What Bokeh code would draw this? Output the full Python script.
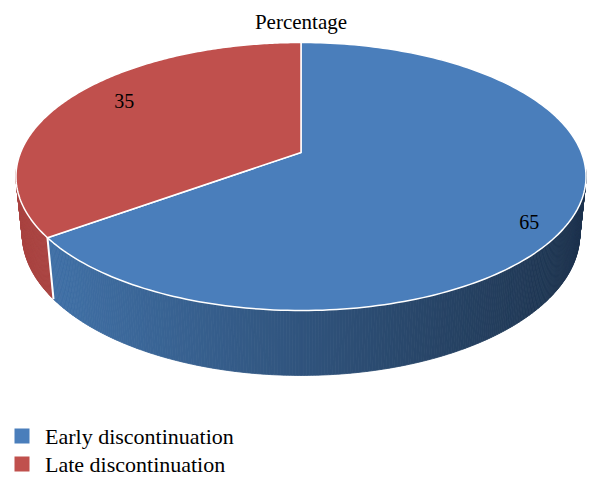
import numpy as np
from bokeh.plotting import figure
from bokeh.models import Range1d
from bokeh.core.properties import value
from bokeh.embed import file_html
from bokeh.resources import INLINE

# ---------------- data ----------------
categories = ["Early discontinuation", "Late discontinuation"]
percentages = [65, 35]
label_texts = ["65", "35"]
title_text = "Percentage"

# ---------------- styles ----------------
top_colors = ["#4A7EBB", "#C0504D"]
side_left_rgb = [(64, 112, 166), (170, 68, 65)]
side_right_rgb = [(30, 52, 79), (160, 62, 60)]
label_dx = [0, 22]
label_dy = [16, -5]
FONT = value("Liberation Serif")

# ---------------- geometry (page pixel space) ----------------
CX, CY = 300.5, 152.0
PHI = np.arcsin(0.4626)
DIST = 4.95
FOC = 1388.0
DEPTH = 0.234


def project(u, w, z):
    d = DIST - w * np.cos(PHI) - z * np.sin(PHI)
    x = CX + FOC * u / d
    y = CY + FOC * (w * np.sin(PHI) - z * np.cos(PHI)) / d
    return x, y


def rim(theta_deg, r=1.0, z=0.0):
    t = np.radians(theta_deg)
    return project(r * np.sin(t), -r * np.cos(t), z)


W, H = 596, 480
p = figure(width=W, height=H, output_backend="svg", toolbar_location=None,
           x_range=Range1d(0, W), y_range=Range1d(H, 0),
           min_border=0, outline_line_color=None, background_fill_color="white")
p.axis.visible = False
p.grid.visible = False

total = float(sum(percentages))
angles = np.cumsum([0] + [v / total * 360.0 for v in percentages])

# ---- side strips ----
sx, sy, sc, sk = [], [], [], []
for i in range(len(percentages)):
    a0, a1 = angles[i], angles[i + 1]
    edges = np.linspace(a0, a1, int(np.ceil((a1 - a0) / 0.5)) + 1)
    for a, b in zip(edges[:-1], edges[1:]):
        m = 0.5 * (a + b)
        if np.cos(np.radians(m)) > -0.12:
            continue
        xt0, yt0 = rim(a)
        xt1, yt1 = rim(b)
        xb1, yb1 = rim(b, z=-DEPTH)
        xb0, yb0 = rim(a, z=-DEPTH)
        xm = 0.5 * (xt0 + xt1)
        t = min(max((xm - 50.0) / 530.0, 0.0), 1.0)
        L, R = side_left_rgb[i], side_right_rgb[i]
        rgb = tuple(int(round(L[k] + (R[k] - L[k]) * t)) for k in range(3))
        sx.append([xt0, xt1, xb1, xb0])
        sy.append([yt0, yt1, yb1, yb0])
        sc.append("#%02x%02x%02x" % rgb)
        sk.append(-np.cos(np.radians(m)))
order = np.argsort(sk)
p.patches(xs=[sx[j] for j in order], ys=[sy[j] for j in order],
          fill_color=[sc[j] for j in order], line_color=[sc[j] for j in order],
          line_width=0.8)

# white edge between slices on side
for a in angles[1:-1]:
    if np.cos(np.radians(a)) < -0.12:
        x0, y0 = rim(a)
        x1, y1 = rim(a, z=-DEPTH)
        p.line([x0, x1], [y0, y1], line_color="white", line_width=2)

# ---- top faces ----
for i in range(len(percentages)):
    th = np.linspace(angles[i], angles[i + 1], 200)
    xs, ys = rim(th)
    p.patch(np.concatenate([[CX], xs]), np.concatenate([[CY], ys]),
            fill_color=top_colors[i], line_color="white", line_width=1.5,
            line_join="round")

# ---- data labels ----
mids = 0.5 * (angles[:-1] + angles[1:])
lx, ly = rim(mids, r=0.85)
p.text(x=list(lx + np.array(label_dx)), y=list(ly + np.array(label_dy)),
       text=label_texts, text_font=FONT, text_font_size="20px",
       text_color="black", text_align="center", text_baseline="middle")

# ---- title ----
p.text(x=[CX], y=[21], text=[title_text], text_font=FONT,
       text_font_size="21px", text_color="black",
       text_align="center", text_baseline="middle")

# ---- legend ----
LEG_X, LEG_Y0, LEG_DY = 21.5, 435.5, 28
leg_y = [LEG_Y0 + k * LEG_DY for k in range(len(categories))]
p.scatter(x=[LEG_X] * len(categories), y=leg_y, marker="square", size=15,
          fill_color=top_colors, line_color=None)
p.text(x=[LEG_X + 23] * len(categories), y=leg_y, text=categories,
       text_font=FONT, text_font_size="22px", text_color="black",
       text_align="left", text_baseline="middle")

open("out.html", "w").write(file_html(p, INLINE))
